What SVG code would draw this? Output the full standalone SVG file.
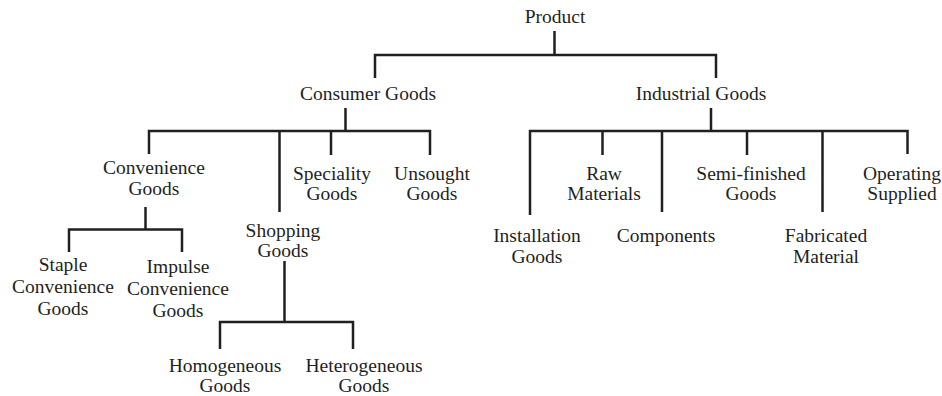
<svg xmlns="http://www.w3.org/2000/svg" width="942" height="396" viewBox="0 0 942 396">
<style>
.t{font-family:"Liberation Serif","Times New Roman",serif;font-size:19.5px;fill:#231f20;text-anchor:middle}
.c{fill:none;stroke:#231f20;stroke-width:2.5;stroke-linecap:butt;stroke-linejoin:miter}
</style>
<rect width="942" height="396" fill="#ffffff"/>
<g id="connectors">
<path class="c" d="M554.5,31 V55 M375,78 V55 H716 V78"/>
<path class="c" d="M345.5,108 V131 M149,154 V131 H430 V155 M279.5,131 V212 M331,131 V155"/>
<path class="c" d="M711,108 V131 M530,215 V131 H907.5 V154 M602.5,131 V155 M662,131 V212 M747,131 V155 M822.5,131 V212"/>
<path class="c" d="M145.5,207 V229.5 M69,252 V229.5 H182 V252"/>
<path class="c" d="M284.5,261 V322 M220,349 V322 H353 V349"/>
</g>
<g id="product"><text class="t" x="555" y="23">Product</text></g>
<g id="consumer-goods"><text class="t" x="368" y="100">Consumer Goods</text></g>
<g id="industrial-goods"><text class="t" x="701" y="100">Industrial Goods</text></g>
<g id="convenience-goods"><text class="t" x="154" y="174">Convenience</text><text class="t" x="154" y="195">Goods</text></g>
<g id="speciality-goods"><text class="t" x="332" y="180">Speciality</text><text class="t" x="332" y="200">Goods</text></g>
<g id="unsought-goods"><text class="t" x="432" y="180">Unsought</text><text class="t" x="432" y="200">Goods</text></g>
<g id="shopping-goods"><text class="t" x="283" y="237">Shopping</text><text class="t" x="283" y="257">Goods</text></g>
<g id="staple-convenience-goods"><text class="t" x="63" y="271">Staple</text><text class="t" x="63" y="293">Convenience</text><text class="t" x="63" y="315">Goods</text></g>
<g id="impulse-convenience-goods"><text class="t" x="178" y="273">Impulse</text><text class="t" x="178" y="295">Convenience</text><text class="t" x="178" y="317">Goods</text></g>
<g id="homogeneous-goods"><text class="t" x="225" y="372">Homogeneous</text><text class="t" x="225" y="392">Goods</text></g>
<g id="heterogeneous-goods"><text class="t" x="364" y="372">Heterogeneous</text><text class="t" x="364" y="392">Goods</text></g>
<g id="raw-materials"><text class="t" x="604" y="180">Raw</text><text class="t" x="604" y="200">Materials</text></g>
<g id="semi-finished-goods"><text class="t" x="751" y="180">Semi-finished</text><text class="t" x="751" y="200">Goods</text></g>
<g id="operating-supplied"><text class="t" x="902" y="180">Operating</text><text class="t" x="902" y="200">Supplied</text></g>
<g id="installation-goods"><text class="t" x="537" y="242">Installation</text><text class="t" x="537" y="263">Goods</text></g>
<g id="components"><text class="t" x="666" y="242">Components</text></g>
<g id="fabricated-material"><text class="t" x="826" y="242">Fabricated</text><text class="t" x="826" y="263">Material</text></g>
</svg>
